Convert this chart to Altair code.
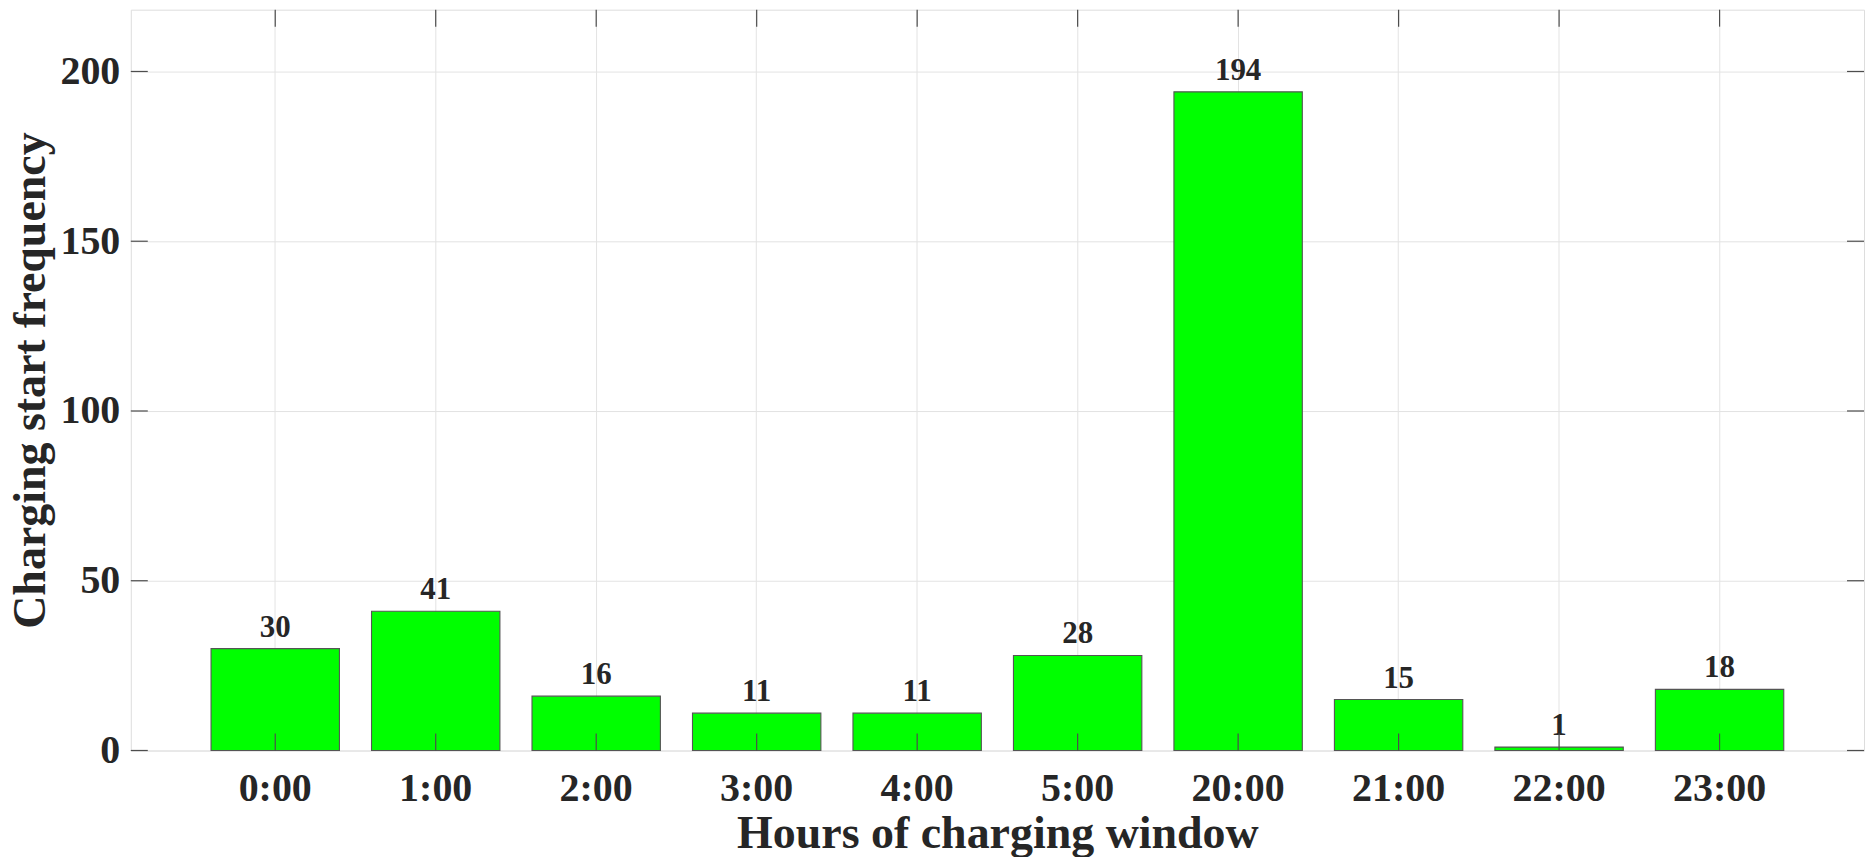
import altair as alt
import pandas as pd

hours = ["0:00", "1:00", "2:00", "3:00", "4:00", "5:00", "20:00", "21:00", "22:00", "23:00"]
counts = [30, 41, 16, 11, 11, 28, 194, 15, 1, 18]
y_ticks = [0, 50, 100, 150, 200]

W = 1736
H = 742
TICK = 17
FONT = "Liberation Serif"

bars_df = pd.DataFrame({"hour": hours, "count": counts})
yt_df = pd.DataFrame({"v": y_ticks})

xscale = alt.Scale(domain=hours, paddingInner=0.2, paddingOuter=0.5)
yscale = alt.Scale(domain=[0, 218.2], nice=False, zero=True)

x_enc = alt.X("hour:N", sort=hours, scale=xscale,
              axis=alt.Axis(title="Hours of charging window", labelAngle=0,
                            ticks=False, domain=False, grid=True,
                            gridColor="#e3e3e3", gridWidth=1,
                            labelFont=FONT, labelFontSize=40, labelFontWeight="bold",
                            labelColor="#262626", labelPadding=18,
                            titleFont=FONT, titleFontSize=46, titleFontWeight="bold",
                            titleColor="#262626", titlePadding=3))
y_enc = alt.Y("count:Q", scale=yscale,
              axis=alt.Axis(title="Charging start frequency", values=y_ticks,
                            ticks=False, domain=False, grid=True,
                            gridColor="#e3e3e3", gridWidth=1,
                            labelFont=FONT, labelFontSize=40, labelFontWeight="bold",
                            labelColor="#262626", labelPadding=11,
                            titleFont=FONT, titleFontSize=46, titleFontWeight="bold",
                            titleColor="#262626", titlePadding=5))

bars = alt.Chart(bars_df).mark_bar(color="#00ff00", stroke="#555555", strokeWidth=1.1).encode(
    x=x_enc, y=y_enc)

labels = alt.Chart(bars_df).mark_text(
    baseline="bottom", dy=-5, font=FONT, fontSize=31, fontWeight="bold", color="#262626"
).encode(x=alt.X("hour:N", sort=hours, scale=xscale),
         y=alt.Y("count:Q", scale=yscale), text="count:Q")

xt_bottom = alt.Chart(bars_df).mark_rule(color="#4d4d4d", strokeWidth=1.2).encode(
    x=alt.X("hour:N", sort=hours, scale=xscale), y=alt.value(H), y2=alt.value(H - TICK))
xt_top = alt.Chart(bars_df).mark_rule(color="#4d4d4d", strokeWidth=1.2).encode(
    x=alt.X("hour:N", sort=hours, scale=xscale), y=alt.value(0), y2=alt.value(TICK))
yt_left = alt.Chart(yt_df).mark_rule(color="#4d4d4d", strokeWidth=1.2).encode(
    y=alt.Y("v:Q", scale=yscale), x=alt.value(0), x2=alt.value(TICK))
yt_right = alt.Chart(yt_df).mark_rule(color="#4d4d4d", strokeWidth=1.2).encode(
    y=alt.Y("v:Q", scale=yscale), x=alt.value(W), x2=alt.value(W - TICK))

chart = alt.layer(bars, labels, xt_bottom, xt_top, yt_left, yt_right).properties(
    width=W, height=H, padding=0
).configure_view(stroke="#666666", strokeWidth=1.5).configure(background="white")

chart.save("out.html", embed_options={"renderer": "svg", "actions": False})
